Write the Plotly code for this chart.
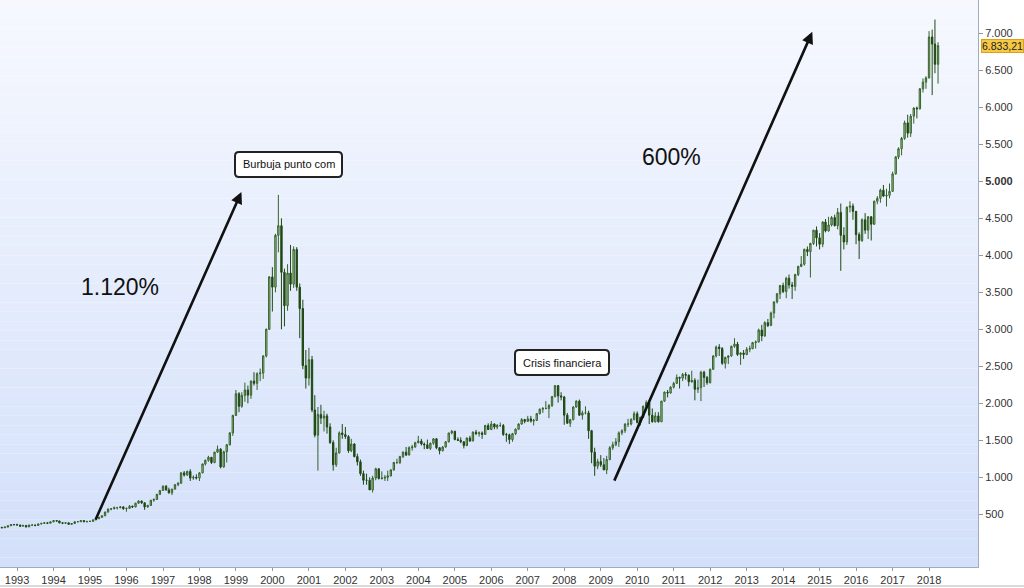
import pandas as pd
import plotly.graph_objects as go

# Monthly OHLC, Aug 1992 .. Apr 2018
opens = [
    325, 318, 328, 345, 362,
    360, 355, 340, 350, 330, 355, 355, 350, 370, 378, 385, 380,
    398, 415, 410, 385, 380, 385, 365, 375, 400, 400, 415, 400,
    404, 405, 425, 440, 460, 480, 530, 570, 575, 590, 590, 600,
    576, 580, 610, 600, 650, 680, 655, 600, 620, 690, 700, 770,
    821, 880, 830, 790, 840, 900, 920, 1060, 1030, 1080, 990, 1000,
    990, 1060, 1180, 1230, 1270, 1200, 1340, 1380, 1140, 1345, 1440, 1600,
    1836, 2130, 1960, 2105, 2180, 2110, 2300, 2270, 2400, 2410, 2640, 3000,
    3708, 3570, 4270, 4400, 3770, 3320, 3760, 3610, 4080, 3570, 3280, 2510,
    2341, 2590, 1910, 1570, 1850, 1800, 1830, 1680, 1470, 1170, 1330, 1600,
    1577, 1550, 1360, 1450, 1280, 1210, 1050, 960, 960, 830, 990, 1115,
    984, 990, 1000, 1020, 1100, 1200, 1200, 1280, 1340, 1300, 1400, 1410,
    1467, 1490, 1450, 1440, 1390, 1460, 1520, 1400, 1360, 1410, 1480, 1600,
    1621, 1510, 1500, 1480, 1430, 1530, 1490, 1610, 1590, 1600, 1580, 1700,
    1645, 1720, 1680, 1700, 1700, 1580, 1575, 1510, 1590, 1650, 1720, 1780,
    1756, 1790, 1760, 1770, 1860, 1920, 1930, 1930, 1970, 2090, 2240, 2100,
    2085, 1840, 1730, 1780, 1950, 2030, 1840, 1870, 1870, 1630, 1340, 1150,
    1212, 1170, 1100, 1240, 1400, 1440, 1480, 1600, 1630, 1720, 1720, 1780,
    1860, 1740, 1810, 1960, 2010, 1840, 1750, 1830, 1750, 2030, 2150, 2140,
    2218, 2270, 2350, 2340, 2390, 2380, 2290, 2310, 2190, 2210, 2420, 2350,
    2278, 2460, 2640, 2760, 2740, 2540, 2620, 2640, 2770, 2800, 2660, 2680,
    2660, 2730, 2740, 2820, 2830, 2990, 2910, 3090, 3050, 3220, 3370, 3480,
    3592, 3510, 3690, 3600, 3580, 3740, 3850, 3880, 4080, 4050, 4160, 4340,
    4236, 4150, 4450, 4330, 4410, 4510, 4400, 4580, 4270, 4180, 4650, 4665,
    4593, 4280, 4200, 4480, 4340, 4520, 4420, 4730, 4770, 4880, 4800, 4810,
    4864, 5100, 5330, 5440, 5580, 5790, 5650, 5880, 5990, 5980, 6250, 6340,
    6397, 6950, 6855, 6581,
]
highs = [
    328, 332, 348, 364, 368,
    372, 360, 356, 352, 358, 362, 360, 372, 382, 392, 390, 400,
    418, 420, 412, 392, 390, 388, 378, 402, 408, 418, 420, 410,
    412, 428, 444, 464, 485, 535, 580, 585, 605, 600, 612, 610,
    590, 625, 618, 655, 690, 685, 660, 628, 695, 715, 775, 830,
    890, 895, 860, 845, 910, 935, 1070, 1085, 1090, 1110, 1025, 1040,
    1070, 1185, 1240, 1290, 1275, 1345, 1430, 1395, 1360, 1450, 1610, 1845,
    2180, 2150, 2150, 2280, 2240, 2310, 2420, 2420, 2470, 2650, 3010, 3720,
    3840, 4290, 4816, 4500, 3820, 3880, 4140, 4120, 4110, 3620, 3400, 2720,
    2750, 2640, 2110, 1950, 1980, 1900, 1860, 1730, 1500, 1400, 1620, 1720,
    1680, 1570, 1520, 1460, 1320, 1240, 1090, 1050, 1000, 1020, 1130, 1120,
    1080, 1030, 1090, 1110, 1210, 1250, 1290, 1350, 1410, 1420, 1440, 1480,
    1560, 1520, 1470, 1510, 1470, 1530, 1530, 1410, 1420, 1490, 1600, 1640,
    1630, 1540, 1540, 1490, 1540, 1560, 1620, 1640, 1620, 1620, 1710, 1730,
    1760, 1730, 1720, 1740, 1720, 1600, 1590, 1600, 1660, 1730, 1800, 1790,
    1830, 1830, 1790, 1870, 1930, 1950, 2030, 1990, 2100, 2240, 2240, 2150,
    2100, 1870, 1790, 1960, 2040, 2050, 1900, 1960, 1900, 1640, 1400, 1250,
    1300, 1260, 1290, 1420, 1480, 1530, 1620, 1650, 1730, 1790, 1800, 1890,
    1890, 1820, 1970, 2040, 2020, 1930, 1880, 1880, 2030, 2160, 2180, 2230,
    2290, 2390, 2360, 2410, 2420, 2390, 2440, 2340, 2320, 2440, 2440, 2370,
    2470, 2650, 2780, 2800, 2760, 2630, 2650, 2780, 2880, 2830, 2690, 2720,
    2760, 2780, 2830, 2850, 3010, 3060, 3110, 3140, 3240, 3380, 3490, 3600,
    3630, 3710, 3740, 3640, 3750, 3860, 3990, 4090, 4120, 4170, 4340, 4390,
    4300, 4460, 4490, 4520, 4530, 4550, 4640, 4700, 4380, 4660, 4730, 4700,
    4600, 4310, 4500, 4570, 4530, 4530, 4740, 4800, 4900, 4950, 4900, 4970,
    5130, 5340, 5460, 5600, 5820, 5900, 5910, 6000, 6010, 6260, 6390, 6420,
    7030, 7050, 7186, 6880,
]
lows = [
    312, 315, 322, 343, 350,
    352, 328, 335, 322, 328, 344, 338, 348, 362, 372, 368, 378,
    394, 402, 378, 368, 370, 360, 358, 372, 392, 396, 395, 390,
    396, 402, 420, 436, 452, 476, 525, 555, 568, 565, 580, 560,
    535, 575, 585, 595, 645, 640, 560, 590, 615, 670, 695, 760,
    815, 820, 780, 760, 835, 880, 915, 1010, 1020, 950, 965, 970,
    950, 1055, 1160, 1210, 1180, 1190, 1330, 1120, 1130, 1200, 1430, 1560,
    1830, 1880, 1940, 2020, 2000, 2060, 2240, 2180, 2300, 2330, 2620, 2990,
    3240, 3500, 4040, 3000, 3040, 3250, 3520, 3560, 3520, 2880, 2460, 2200,
    2240, 1880, 1540, 1090, 1720, 1620, 1590, 1450, 1090, 1140, 1320, 1520,
    1520, 1330, 1340, 1270, 1160, 1020, 900, 900, 830, 795, 960, 970,
    970, 950, 950, 1010, 1090, 1180, 1180, 1260, 1290, 1300, 1360, 1400,
    1460, 1430, 1380, 1390, 1370, 1440, 1380, 1310, 1350, 1400, 1470, 1580,
    1500, 1490, 1460, 1390, 1420, 1480, 1490, 1570, 1550, 1520, 1575, 1640,
    1640, 1650, 1650, 1680, 1560, 1480, 1450, 1480, 1570, 1640, 1710, 1730,
    1750, 1740, 1700, 1760, 1850, 1870, 1920, 1800, 1950, 2080, 2010, 2040,
    1710, 1730, 1680, 1770, 1940, 1830, 1780, 1850, 1520, 1190, 1020, 1110,
    1140, 1100, 1043, 1230, 1370, 1420, 1410, 1570, 1600, 1680, 1700, 1770,
    1730, 1700, 1800, 1950, 1720, 1740, 1740, 1740, 1750, 2020, 2080, 2130,
    2200, 2260, 2200, 2300, 2320, 2230, 2280, 2040, 2140, 2030, 2220, 2250,
    2270, 2450, 2620, 2640, 2520, 2470, 2530, 2630, 2750, 2640, 2520, 2600,
    2650, 2690, 2730, 2740, 2820, 2840, 2900, 3030, 3050, 3150, 3350, 3410,
    3490, 3420, 3550, 3410, 3520, 3720, 3840, 3860, 3990, 3700, 4140, 4120,
    4080, 4110, 4310, 4320, 4390, 4390, 4350, 3790, 4080, 4140, 4580, 4480,
    4150, 3950, 4180, 4290, 4220, 4200, 4410, 4690, 4710, 4790, 4660, 4770,
    4860, 5090, 5300, 5350, 5560, 5590, 5600, 5780, 5850, 5970, 6200, 6250,
    6390, 6165, 6460, 6320,
]
closes = [
    318, 328, 345, 362, 360,
    355, 340, 350, 330, 355, 355, 350, 370, 378, 385, 380, 398,
    415, 410, 385, 380, 385, 365, 375, 400, 400, 415, 400, 404,
    405, 425, 440, 460, 480, 530, 570, 575, 590, 590, 600, 576,
    580, 610, 600, 650, 680, 655, 600, 620, 690, 700, 770, 821,
    880, 830, 790, 840, 900, 920, 1060, 1030, 1080, 990, 1000, 990,
    1060, 1180, 1230, 1270, 1200, 1340, 1380, 1140, 1345, 1440, 1600, 1836,
    2130, 1960, 2105, 2180, 2110, 2300, 2270, 2400, 2410, 2640, 3000, 3708,
    3570, 4270, 4400, 3770, 3320, 3760, 3610, 4080, 3570, 3280, 2510, 2341,
    2590, 1910, 1570, 1850, 1800, 1830, 1680, 1470, 1170, 1330, 1600, 1577,
    1550, 1360, 1450, 1280, 1210, 1050, 960, 960, 830, 990, 1115, 984,
    990, 1000, 1020, 1100, 1200, 1200, 1280, 1340, 1300, 1400, 1410, 1467,
    1490, 1450, 1440, 1390, 1460, 1520, 1400, 1360, 1410, 1480, 1600, 1621,
    1510, 1500, 1480, 1430, 1530, 1490, 1610, 1590, 1600, 1580, 1700, 1645,
    1720, 1680, 1700, 1700, 1580, 1575, 1510, 1590, 1650, 1720, 1780, 1756,
    1790, 1760, 1770, 1860, 1920, 1930, 1930, 1970, 2090, 2240, 2100, 2085,
    1840, 1730, 1780, 1950, 2030, 1840, 1870, 1870, 1630, 1340, 1150, 1212,
    1170, 1100, 1240, 1400, 1440, 1480, 1600, 1630, 1720, 1720, 1780, 1860,
    1740, 1810, 1960, 2010, 1840, 1750, 1830, 1750, 2030, 2150, 2140, 2218,
    2270, 2350, 2340, 2390, 2380, 2290, 2310, 2190, 2210, 2420, 2350, 2278,
    2460, 2640, 2760, 2740, 2540, 2620, 2640, 2770, 2800, 2660, 2680, 2660,
    2730, 2740, 2820, 2830, 2990, 2910, 3090, 3050, 3220, 3370, 3480, 3592,
    3510, 3690, 3600, 3580, 3740, 3850, 3880, 4080, 4050, 4160, 4340, 4236,
    4150, 4450, 4330, 4410, 4510, 4400, 4580, 4270, 4180, 4650, 4665, 4593,
    4280, 4200, 4480, 4340, 4520, 4420, 4730, 4770, 4880, 4800, 4810, 4864,
    5100, 5330, 5440, 5580, 5790, 5650, 5880, 5990, 5980, 6250, 6340, 6397,
    6950, 6855, 6581, 6833.21,
]
dates = pd.date_range("1992-08-01", periods=len(closes), freq="MS")

year_ticks = [f"{y}-01-01" for y in range(1993, 2019)]
year_labels = [str(y) for y in range(1993, 2019)]
y_ticks = [500, 1000, 1500, 2000, 2500, 3000, 3500, 4000, 4500, 5000, 5500, 6000, 6500, 7000, 7500]
y_labels = ["500", "1.000", "1.500", "2.000", "2.500", "3.000", "3.500", "4.000",
            "4.500", "<b>5.000</b>", "5.500", "6.000", "6.500", "7.000", "7.500"]
last_price = closes[-1]
last_label = "6.833,21"

W, H = 1024, 588
ML, MR, MT, MB = 0, 46, 0, 21
PW, PH = W - ML - MR, H - MT - MB

def px(x):
    return x / PW

def py(y):
    return 1 - y / PH

fig = go.Figure()
fig.add_trace(go.Candlestick(
    x=dates, open=opens, high=highs, low=lows, close=closes,
    increasing=dict(line=dict(color="#35632a", width=1), fillcolor="#abcb9d"),
    decreasing=dict(line=dict(color="#1f4813", width=1), fillcolor="#1f4813"),
    whiskerwidth=0, showlegend=False, hoverinfo="skip",
))

# gradient background bands
shapes = []
n = 60
top = (246, 248, 254)
bot = (211, 224, 250)
for i in range(n):
    t = i / (n - 1)
    c = tuple(round(top[k] + (bot[k] - top[k]) * t) for k in range(3))
    shapes.append(dict(type="rect", xref="paper", yref="paper", layer="below",
                       x0=0, x1=1, y0=1 - (i + 1) / n, y1=1 - i / n,
                       fillcolor=f"rgb{c}", line=dict(width=0)))

def rounded(x0, y0, x1, y1, r=4):
    X0, X1 = px(x0), px(x1)
    Y0, Y1 = py(y0), py(y1)
    rx, ry = r / PW, r / PH
    return (f"M {X0+rx},{Y0} L {X1-rx},{Y0} Q {X1},{Y0} {X1},{Y0-ry} "
            f"L {X1},{Y1+ry} Q {X1},{Y1} {X1-rx},{Y1} L {X0+rx},{Y1} "
            f"Q {X0},{Y1} {X0},{Y1+ry} L {X0},{Y0-ry} Q {X0},{Y0} {X0+rx},{Y0} Z")

for (x0, y0, x1, y1) in [(235, 152, 342, 177), (515, 350, 609, 375)]:
    shapes.append(dict(type="path", xref="paper", yref="paper", path=rounded(x0, y0, x1, y1),
                       fillcolor="white", line=dict(color="#222", width=2), layer="above"))

# bottom frame line
shapes.append(dict(type="line", xref="paper", yref="paper", x0=0, x1=W / PW,
                   y0=-(586 - PH) / PH, y1=-(586 - PH) / PH,
                   line=dict(color="#b5b5b5", width=1)))

font = "Arial, Liberation Sans, sans-serif"
txt = dict(showarrow=False, xanchor="center", yanchor="middle", xref="paper", yref="paper")
annotations = [
    dict(x=px(288.5), y=py(164.5), text="Burbuja punto com",
         font=dict(family=font, size=11, color="#111"), **txt),
    dict(x=px(562), y=py(362.5), text="Crisis financiera",
         font=dict(family=font, size=11, color="#111"), **txt),
    dict(x=px(120), y=py(287), text="1.120%",
         font=dict(family=font, size=23, color="#111"), **txt),
    dict(x=px(671), y=py(157), text="600%",
         font=dict(family=font, size=23, color="#111"), **txt),
    # arrows
    dict(x="1999-02-25", y=4855, xref="x", yref="y", ax="1995-02-20", ay=410,
         axref="x", ayref="y", text="", showarrow=True, arrowhead=2, arrowsize=0.9,
         arrowwidth=2.6, arrowcolor="#111"),
    dict(x="2014-10-20", y=7020, xref="x", yref="y", ax="2009-05-10", ay=935,
         axref="x", ayref="y", text="", showarrow=True, arrowhead=2, arrowsize=0.9,
         arrowwidth=2.6, arrowcolor="#111"),
    # last price label
    dict(xref="paper", yref="y", x=1, xanchor="left", yanchor="middle", xshift=3, y=last_price,
         text=last_label, showarrow=False, bgcolor="#f7c844", bordercolor="#d9a21c",
         borderwidth=1, borderpad=0, font=dict(family=font, size=10.5, color="#222")),
]

fig.update_layout(
    width=W, height=H,
    margin=dict(l=ML, r=MR, t=MT, b=MB),
    paper_bgcolor="white", plot_bgcolor="white",
    shapes=shapes, annotations=annotations,
    xaxis=dict(type="date", range=["1992-07-14", "2019-05-06"],
               tickvals=year_ticks, ticktext=year_labels,
               ticks="outside", ticklen=3, tickcolor="#999",
               showline=True, linecolor="#a3abbd", linewidth=1,
               showgrid=False, zeroline=False,
               rangeslider=dict(visible=False),
               tickfont=dict(family=font, size=11, color="#333")),
    yaxis=dict(side="right", range=[-212, 7450], tickvals=y_ticks, ticktext=y_labels,
               ticks="outside", ticklen=4, tickcolor="#999",
               showline=True, linecolor="#a3abbd", linewidth=1,
               showgrid=False, zeroline=False,
               tickfont=dict(family=font, size=11, color="#333")),
    font=dict(family=font),
)

fig.write_html("out.html", config={"displayModeBar": False},
               post_script="document.body.style.margin='0';document.body.style.overflow='hidden';")
